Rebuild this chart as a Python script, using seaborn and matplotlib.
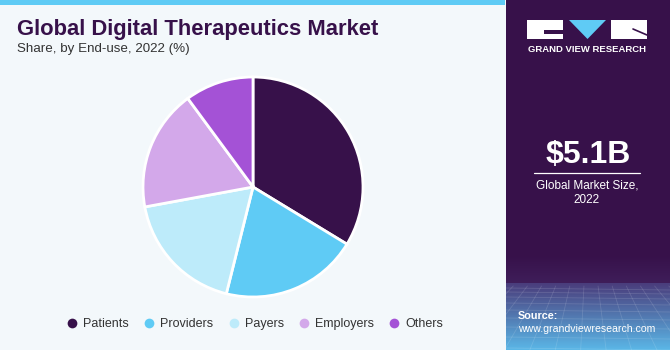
import numpy as np
import matplotlib
matplotlib.use("Agg")
import matplotlib.pyplot as plt
from matplotlib.lines import Line2D
from matplotlib.patches import Rectangle, Polygon
import seaborn as sns

# Market share by end-use, 2022 (%)
segments = ["Patients", "Providers", "Payers", "Employers", "Others"]
shares = [33.7, 20.2, 18.2, 17.8, 10.1]
colors = ["#37114A", "#5FCBF5", "#BDEBFA", "#D3A8EA", "#A452D6"]

title = "Global Digital Therapeutics Market"
subtitle = "Share, by End-use, 2022 (%)"
market_size = "$5.1B"
market_label = "Global Market Size,\n2022"

sns.set_theme(style="white")
plt.rcParams["font.family"] = ["Liberation Sans", "DejaVu Sans"]

W, H = 670, 350
BG = "#F3F8FB"
PANEL = "#37114A"

fig = plt.figure(figsize=(W / 100, H / 100), dpi=100)
fig.patch.set_facecolor(BG)

def fx(x):
    return x / W

def fy(y):
    return 1 - y / H

# top accent stripe
fig.patches.append(Rectangle((0, fy(5)), fx(505), 5 / H, transform=fig.transFigure,
                             facecolor="#5FCBF5", edgecolor="none", zorder=0))

# right-hand panel with gradient footer
pax = fig.add_axes([fx(506), 0, fx(W - 506), 1])
pax.set_xlim(0, W - 506)
pax.set_ylim(H, 0)
pax.axis("off")
top = np.array(matplotlib.colors.to_rgb(PANEL))
mid = np.array(matplotlib.colors.to_rgb("#4A3D7C"))
bot = np.array(matplotlib.colors.to_rgb("#5BB8E8"))
rows = []
for y in range(H):
    if y < 255:
        c = top
    elif y < 283:
        t = (y - 255) / 28
        c = top * (1 - t) + np.array(matplotlib.colors.to_rgb("#3F1E5A")) * t
    else:
        t = (y - 283) / (H - 283)
        c = mid * (1 - t) + bot * t
    rows.append(c)
grad = np.array(rows)[:, None, :]
pax.imshow(grad, extent=[0, W - 506, H, 0], aspect="auto", zorder=0)
# faint perspective grid in the footer
gx = np.linspace(-120, 290, 30)
for x0 in gx:
    pax.plot([x0, 82 + (x0 - 82) * 1.8], [286, H], color="white", alpha=0.13, lw=0.6, zorder=1)
for yy in [288, 292, 297, 303, 310, 318, 327, 337, 348]:
    pax.plot([0, W - 506], [yy, yy + 2], color="white", alpha=0.13, lw=0.6, zorder=1)

# logo blocks
pax.add_patch(Rectangle((527 - 506, 20), 36, 19, facecolor="white", edgecolor="none", zorder=2))
pax.add_patch(Rectangle((544 - 506, 30), 19, 4, facecolor=PANEL, edgecolor="none", zorder=3))
pax.add_patch(Polygon([(569 - 506, 20), (606 - 506, 20), (587.5 - 506, 39)],
                      closed=True, facecolor="#5FCBF5", edgecolor="none", zorder=2))
pax.add_patch(Rectangle((611 - 506, 20), 36, 19, facecolor="white", edgecolor="none", zorder=2))
pax.plot([633 - 506, 647 - 506], [29, 35], color=PANEL, lw=1.2, zorder=3)
pax.text(587 - 506, 50, "GRAND VIEW RESEARCH", color="white", fontsize=6.8,
         fontweight="bold", ha="center", va="center", zorder=3)

pax.text(588 - 506, 155, market_size, color="white", fontsize=23, fontweight="bold",
         ha="center", va="center", zorder=3)
pax.plot([534 - 506, 640 - 506], [173, 173], color="white", lw=0.9, zorder=3)
pax.text(587 - 506, 193, market_label, color="white", fontsize=8.5,
         ha="center", va="center", linespacing=1.3, zorder=3)
pax.text(518 - 506, 316, "Source:", color="white", fontsize=7.8, fontweight="bold",
         ha="left", va="center", zorder=3)
pax.text(518 - 506, 329, "www.grandviewresearch.com", color="white", fontsize=7.6,
         ha="left", va="center", zorder=3)

# titles
fig.text(fx(17), fy(29), title, color="#37114A", fontsize=15.8, fontweight="heavy",
         ha="left", va="center")
fig.text(fx(17), fy(49), subtitle, color="#333333", fontsize=9.6, ha="left", va="center")

# pie
R = 110
cx, cy = 253, 187
ax = fig.add_axes([fx(cx - R), fy(cy + R), 2 * R / W, 2 * R / H])
ax.pie(shares, colors=colors, startangle=90, counterclock=False,
       wedgeprops=dict(edgecolor="white", linewidth=2.0))
ax.set_xlim(-1, 1)
ax.set_ylim(-1, 1)
ax.set_aspect("auto")
ax.axis("off")

# legend
handles = [Line2D([0], [0], marker="o", linestyle="none", markersize=7,
                  markerfacecolor=c, markeredgecolor="none") for c in colors]
fig.legend(handles, segments, loc="center", bbox_to_anchor=(fx(254), fy(324)),
           ncol=5, frameon=False, fontsize=9, handletextpad=0.3, columnspacing=1.0,
           handlelength=1.2, labelcolor="#333333")

fig.savefig("out.png", dpi=100, facecolor=BG)
